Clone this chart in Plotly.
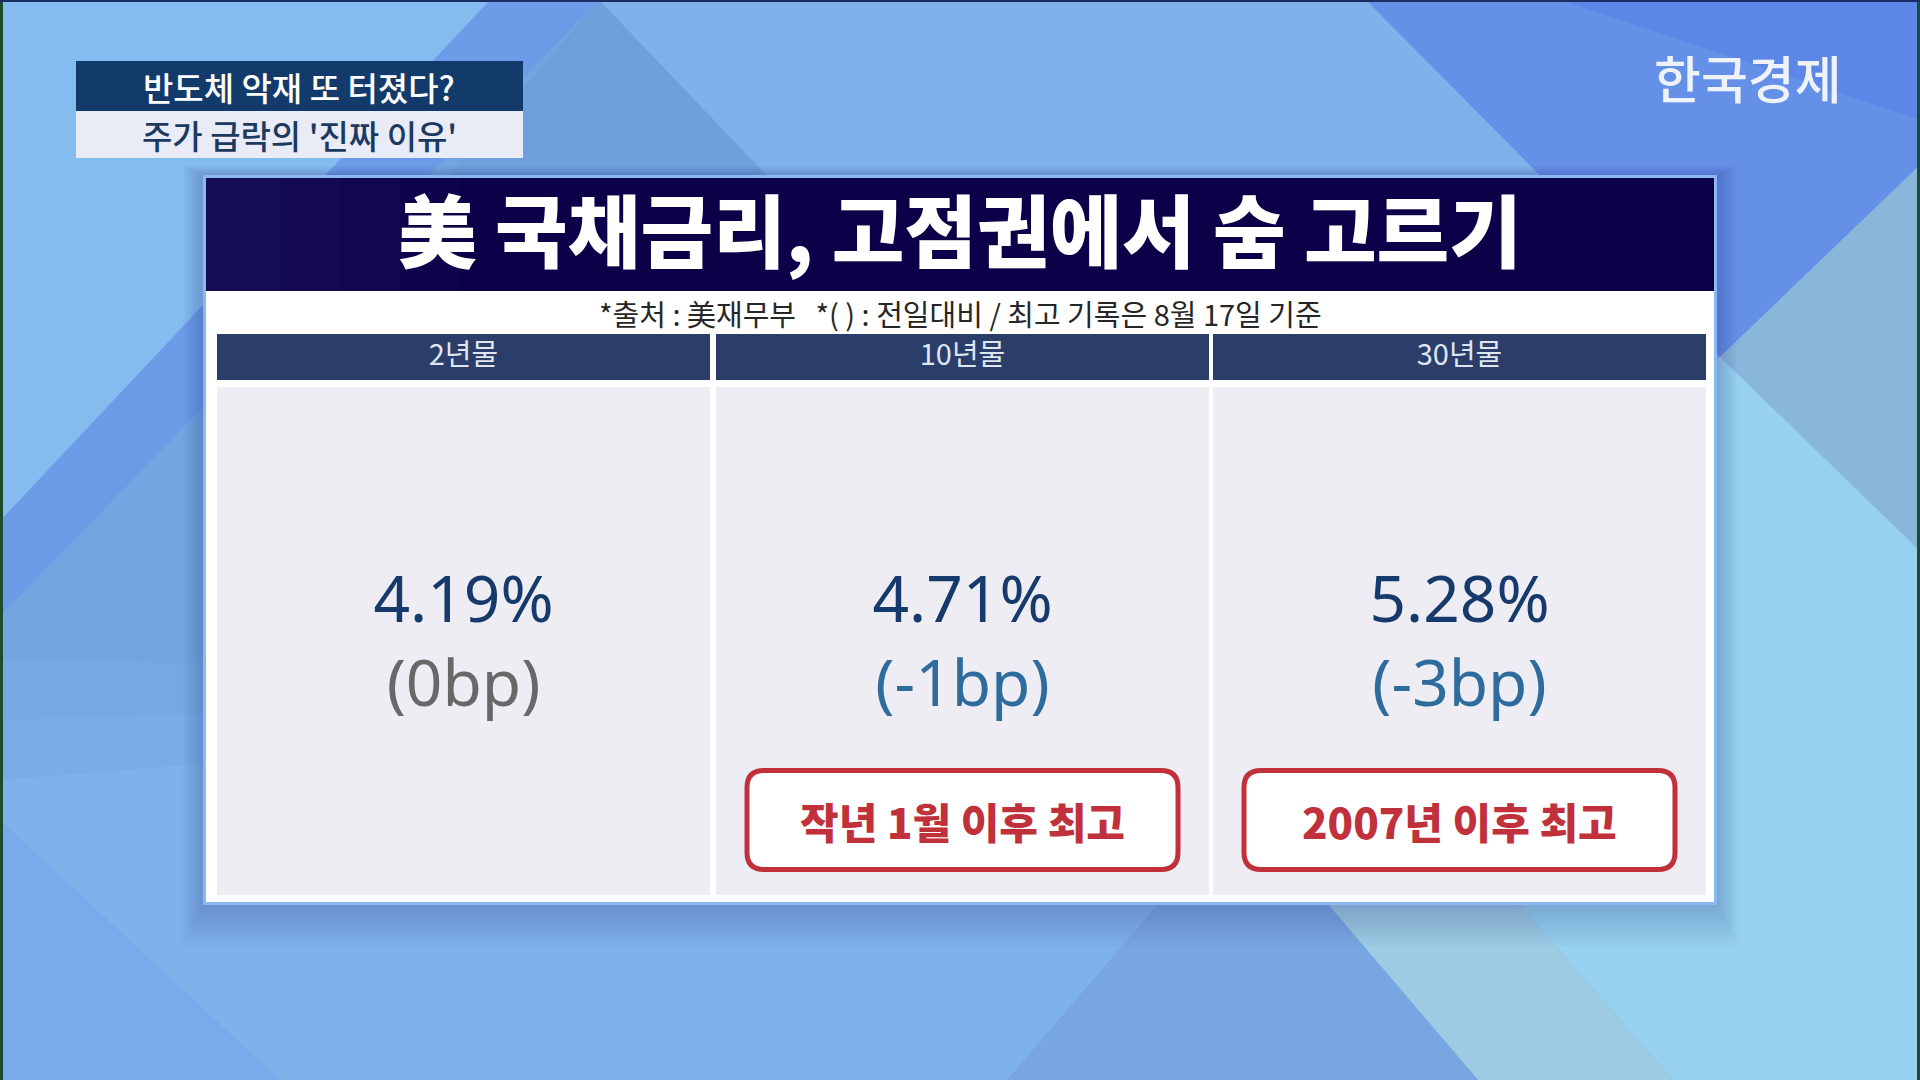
import plotly.graph_objects as go

# ---------------- data ----------------
maturities = ["2년물", "10년물", "30년물"]
yields_pct = [4.19, 4.71, 5.28]
change_bp = [0, -1, -3]
record_notes = [None, "작년 1월 이후 최고", "2007년 이후 최고"]

title_text = "美 국채금리, 고점권에서 숨 고르기"
note_text = "*출처 : 美재무부\u00a0\u00a0\u00a0*( ) : 전일대비 / 최고 기록은 8월 17일 기준"
kicker_top = "반도체 악재 또 터졌다?"
kicker_bottom = "주가 급락의 '진짜 이유'"
logo_text = "한국경제"

# ---------------- styling ----------------
W, H = 1920, 1080
KR = "Noto Sans CJK KR"
NUM = "Noto Sans"
BASE = "#7db2eb"
NAVY_VAL = "#163a6b"
GRAY_CHG = "#686868"
BLUE_CHG = "#2e6c9e"

fig = go.Figure()
shapes = []
annotations = []


def rect(x0, y0, x1, y1, fill, layer="below"):
    shapes.append(dict(type="rect", xref="x", yref="y", x0=x0, y0=y0, x1=x1, y1=y1,
                       fillcolor=fill, line=dict(width=0), layer=layer))


def poly(points, fill, layer="below"):
    d = "M" + " L".join(f"{x},{y}" for x, y in points) + " Z"
    shapes.append(dict(type="path", xref="x", yref="y", path=d, fillcolor=fill,
                       line=dict(width=0), layer=layer))


def rrect_path(x0, y0, x1, y1, r):
    return (f"M{x0+r},{y0} L{x1-r},{y0} Q{x1},{y0} {x1},{y0+r} L{x1},{y1-r} "
            f"Q{x1},{y1} {x1-r},{y1} L{x0+r},{y1} Q{x0},{y1} {x0},{y1-r} "
            f"L{x0},{y0+r} Q{x0},{y0} {x0+r},{y0} Z")


def label(x, y, text, size, color, family=KR, weight="normal"):
    annotations.append(dict(x=x, y=y, xref="x", yref="y", text=text, showarrow=False,
                            xanchor="center", yanchor="middle",
                            font=dict(family=family, size=size, color=color, weight=weight)))


# ---------------- background ----------------
poly([(0, 0), (490, 0), (0, 521)], "#84bcf0")
poly([(490, 0), (599, 0), (0, 616), (0, 521)], "#6c9ce8")
for k, a in enumerate([0.05, 0.05, 0.04]):
    poly([(599, 0), (1250, 680), (0, 780 - k * 60), (0, 616)], f"rgba(60,100,165,{a})")
poly([(599, 0), (765, 175), (520, 330), (450, 175)], "rgba(60,95,160,0.08)")
poly([(0, 820), (280, 1080), (0, 1080)], "#7aa9ec")
poly([(1366, 0), (1920, 0), (1920, 165), (1720, 357)], "#6590e8")
poly([(1560, 0), (1920, 0), (1920, 120)], "rgba(80,120,230,0.35)")
poly([(1720, 357), (1920, 165), (1920, 551)], "#89b7da")
poly([(1300, 655), (1720, 357), (1920, 551), (1920, 1080), (1673, 1080)], "#96d1ef")
poly([(1115, 655), (1300, 655), (1673, 1080), (1478, 1080)], "#9ccbe3")
poly([(1243, 805), (1007, 1080), (1478, 1080)], "#77a6e1")

# screen frame edges
rect(0, 0, 3, H, "#1d4d2c")
rect(W - 3, 0, W, H, "#1d4d2c")
rect(0, 0, W, 2, "#1b2d63")

# ---------------- kicker box (top-left) ----------------
rect(76, 61, 523, 111, "#123b6b")
rect(76, 111, 523, 158, "#e9ebf7")
label(299, 87, kicker_top, 33, "#ffffff", weight=500)
label(299, 135, kicker_bottom, 33, "#1c3a60", weight=500)

# ---------------- logo ----------------
label(1748, 77, logo_text, 51, "#eef3fb", weight=500)

# ---------------- panel ----------------
for k in range(10):
    p = 2 + 3 * k
    rect(203 - p * 0.7, 175 - p * 0.3, 1717 + p * 0.7, 905 + p * 1.4, "rgba(25,55,115,0.022)")
rect(203, 175, 1717, 905, "#8cb8f2")
rect(206, 178, 1714, 902, "#ffffff")
rect(206, 178, 1714, 291, "#0c0049")
for k in range(4):
    rect(206, 178, 460 - k * 60, 291, "rgba(45,45,120,0.08)")
label(960, 227, title_text, 79, "#ffffff", weight=900)
label(960, 313, note_text, 29, "#262626")

col_x0 = [217, 716, 1213]
col_w = 493
col_cx = [x + col_w / 2 for x in col_x0]
for x0 in col_x0:
    rect(x0, 334, x0 + col_w, 380, "#2b3e69")
    rect(x0, 387, x0 + col_w, 895, "#eeedf3")

# headers
fig.add_trace(go.Scatter(x=col_cx, y=[358] * 3, mode="text", text=maturities,
                         textfont=dict(family=KR, size=29, color="#dfe6f2"),
                         hoverinfo="skip"))
# yield and day-on-day change (two lines of one cell)
cell_text = [
    f"{v:.2f}%<br><span style='color:{GRAY_CHG if c == 0 else BLUE_CHG}'>({c}bp)</span>"
    for v, c in zip(yields_pct, change_bp)
]
fig.add_trace(go.Scatter(x=col_cx, y=[648] * 3, mode="text", text=cell_text,
                         textfont=dict(family=NUM, size=64, color=NAVY_VAL),
                         hoverinfo="skip"))

# record badges
for cx, note in zip(col_cx, record_notes):
    if note is None:
        continue
    shapes.append(dict(type="path", xref="x", yref="y",
                       path=rrect_path(cx - 215.5, 770.5, cx + 215.5, 869.5, 17),
                       fillcolor="#ffffff", line=dict(color="#c0313c", width=5), layer="below"))
    label(cx, 820, note, 42, "#c0313c", weight=900)

fig.update_layout(
    width=W, height=H, margin=dict(l=0, r=0, t=0, b=0),
    paper_bgcolor=BASE, plot_bgcolor=BASE, showlegend=False,
    xaxis=dict(range=[0, W], visible=False, fixedrange=True),
    yaxis=dict(range=[H, 0], visible=False, fixedrange=True),
    shapes=shapes, annotations=annotations,
)

fig.write_html("out.html", config={"displayModeBar": False},
               post_script="document.body.style.margin='0';document.body.style.overflow='hidden';")
